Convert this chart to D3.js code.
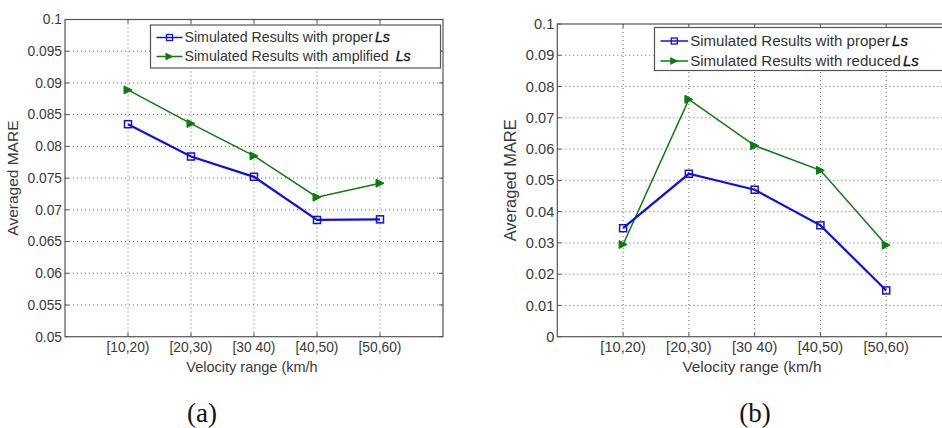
<!DOCTYPE html>
<html>
<head>
<meta charset="utf-8">
<script src="https://cdn.jsdelivr.net/npm/d3@7"></script>
<style>
  body { margin: 0; background: #fff; }
  svg { display: block; font-family: "Liberation Sans", Arial, sans-serif; }
  .tick-label { fill: #3a3a3a; }
  .axis-title { fill: #3a3a3a; }
  .legend-text { fill: #333; }
  .caption { font-family: "Liberation Serif", "Times New Roman", serif; font-size: 27px; fill: #111; }
</style>
</head>
<body>
<div id="chart"></div>
<script>
const categories = ['[10,20)', '[20,30)', '[30 40)', '[40,50)', '[50,60)'];

const properA = [0.0835, 0.0784, 0.0752, 0.0684, 0.0685];
const amplifiedA = [0.0889, 0.0836, 0.0785, 0.0720, 0.0742];
const yTicksA = [0.05, 0.055, 0.06, 0.065, 0.07, 0.075, 0.08, 0.085, 0.09, 0.095, 0.1];
const yTickLabelsA = ['0.05', '0.055', '0.06', '0.065', '0.07', '0.075', '0.08', '0.085', '0.09', '0.095', '0.1'];

const properB = [0.0347, 0.0521, 0.0470, 0.0356, 0.0148];
const reducedB = [0.0295, 0.0759, 0.0611, 0.0532, 0.0293];
const yTicksB = [0, 0.01, 0.02, 0.03, 0.04, 0.05, 0.06, 0.07, 0.08, 0.09, 0.1];
const yTickLabelsB = ['0', '0.01', '0.02', '0.03', '0.04', '0.05', '0.06', '0.07', '0.08', '0.09', '0.1'];

const colors = {
    blue: '#1010e0',
    green: '#0f7a0f',
    frame: '#555',
    grid: '#444'
};

const svg = d3.select('#chart')
    .append('svg')
    .attr('width', 942)
    .attr('height', 428);

function drawPanel(opts) {
    const g = svg.append('g');
    const k = opts.scale;
    const x = d3.scaleLinear().domain([0, 6]).range([opts.left, opts.right]);
    const y = d3.scaleLinear().domain([opts.yTicks[0], opts.yTicks[opts.yTicks.length - 1]])
        .range([opts.bottom, opts.top]);
    const xIdx = d3.range(1, categories.length + 1);

    // grid
    g.append('g').selectAll('line.hg')
        .data(opts.yTicks.slice(1, -1))
        .join('line')
        .attr('x1', opts.left).attr('x2', opts.right)
        .attr('y1', d => y(d)).attr('y2', d => y(d))
        .attr('stroke', colors.grid)
        .attr('stroke-width', 0.8)
        .attr('stroke-dasharray', '1,3');
    g.append('g').selectAll('line.vg')
        .data(xIdx)
        .join('line')
        .attr('x1', d => x(d)).attr('x2', d => x(d))
        .attr('y1', opts.top).attr('y2', opts.bottom)
        .attr('stroke', colors.grid)
        .attr('stroke-width', 0.8)
        .attr('stroke-dasharray', '1,3');

    // frame
    g.append('rect')
        .attr('x', opts.left).attr('y', opts.top)
        .attr('width', opts.right - opts.left)
        .attr('height', opts.bottom - opts.top)
        .attr('fill', 'none')
        .attr('stroke', colors.frame)
        .attr('stroke-width', 1.2);

    // inward ticks
    const tl = 4;
    xIdx.forEach(i => {
        g.append('line').attr('x1', x(i)).attr('x2', x(i))
            .attr('y1', opts.bottom).attr('y2', opts.bottom - tl)
            .attr('stroke', colors.frame);
        g.append('line').attr('x1', x(i)).attr('x2', x(i))
            .attr('y1', opts.top).attr('y2', opts.top + tl)
            .attr('stroke', colors.frame);
    });
    opts.yTicks.forEach(v => {
        g.append('line').attr('x1', opts.left).attr('x2', opts.left + tl)
            .attr('y1', y(v)).attr('y2', y(v))
            .attr('stroke', colors.frame);
        g.append('line').attr('x1', opts.right).attr('x2', opts.right - tl)
            .attr('y1', y(v)).attr('y2', y(v))
            .attr('stroke', colors.frame);
    });

    // tick labels
    g.append('g').selectAll('text')
        .data(opts.yTicks)
        .join('text')
        .attr('class', 'tick-label')
        .style('font-size', 13.8 * k + 'px')
        .attr('x', opts.left - 3)
        .attr('y', d => y(d))
        .attr('dy', '0.35em')
        .attr('text-anchor', 'end')
        .text((d, i) => opts.yTickLabels[i]);
    g.append('g').selectAll('text')
        .data(categories)
        .join('text')
        .attr('class', 'tick-label')
        .style('font-size', 13.8 * k + 'px')
        .attr('x', (d, i) => x(i + 1))
        .attr('y', opts.bottom + 15)
        .attr('text-anchor', 'middle')
        .text(d => d);

    // axis titles
    g.append('text')
        .attr('class', 'axis-title')
        .style('font-size', 14.5 * k + 'px')
        .attr('x', opts.xTitleX)
        .attr('y', opts.bottom + 35)
        .attr('text-anchor', 'middle')
        .text('Velocity range (km/h');
    g.append('text')
        .attr('class', 'axis-title')
        .style('font-size', 15.5 * k + 'px')
        .attr('transform', `translate(${opts.yTitleX}, ${(opts.top + opts.bottom) / 2}) rotate(-90)`)
        .attr('text-anchor', 'middle')
        .text('Averaged MARE');

    // series
    const line = d3.line()
        .x((d, i) => x(i + 1))
        .y(d => y(d));

    g.append('path')
        .datum(opts.second)
        .attr('d', line)
        .attr('fill', 'none')
        .attr('stroke', colors.green)
        .attr('stroke-width', 1.5);
    g.append('path')
        .datum(opts.proper)
        .attr('d', line)
        .attr('fill', 'none')
        .attr('stroke', colors.blue)
        .attr('stroke-width', 2.2);

    g.append('g').selectAll('path')
        .data(opts.second)
        .join('path')
        .attr('d', (d, i) => triangle(x(i + 1), y(d)))
        .attr('fill', colors.green)
        .attr('stroke', colors.green);
    g.append('g').selectAll('rect')
        .data(opts.proper)
        .join('rect')
        .attr('x', (d, i) => x(i + 1) - 3.5)
        .attr('y', d => y(d) - 3.5)
        .attr('width', 7).attr('height', 7)
        .attr('fill', 'none')
        .attr('stroke', colors.blue)
        .attr('stroke-width', 1.5);

    // legend
    const lg = g.append('g');
    lg.append('rect')
        .attr('x', opts.legend.x).attr('y', opts.legend.y)
        .attr('width', opts.legend.w).attr('height', opts.legend.h)
        .attr('fill', '#fff')
        .attr('stroke', colors.frame)
        .attr('stroke-width', 1.2);
    const lx = opts.legend.x + 6;
    const rows = [
        { color: colors.blue, label: 'Simulated Results with proper', marker: 'square' },
        { color: colors.green, label: opts.secondLabel, marker: 'triangle' }
    ];
    rows.forEach((r, i) => {
        const ry = opts.legend.y + opts.legend.row0 + i * opts.legend.step;
        lg.append('line')
            .attr('x1', lx).attr('x2', lx + 26 * k)
            .attr('y1', ry).attr('y2', ry)
            .attr('stroke', r.color)
            .attr('stroke-width', 1.5);
        if (r.marker === 'square') {
            lg.append('rect')
                .attr('x', lx + 13 * k - 3).attr('y', ry - 3)
                .attr('width', 6).attr('height', 6)
                .attr('fill', 'none')
                .attr('stroke', r.color)
                .attr('stroke-width', 1.3);
        } else {
            lg.append('path')
                .attr('d', triangle(lx + 13 * k, ry))
                .attr('fill', r.color);
        }
        const t = lg.append('text')
            .attr('class', 'legend-text')
            .style('font-size', 14.2 * k + 'px')
            .attr('x', lx + 28 * k)
            .attr('y', ry)
            .attr('dy', '0.35em');
        t.append('tspan').text(r.label);
        t.append('tspan')
            .attr('dx', opts.lsGap[i])
            .style('font-style', 'italic')
            .style('fill', '#111')
            .style('stroke', '#111')
            .style('stroke-width', 0.3)
            .text('Ls');
    });
}

function triangle(cx, cy) {
    const s = 4;
    return `M${cx - s},${cy - s}L${cx + s},${cy}L${cx - s},${cy + s}Z`;
}

drawPanel({
    left: 65, right: 443, top: 19.5, bottom: 336.7,
    scale: 1,
    yTicks: yTicksA, yTickLabels: yTickLabelsA,
    proper: properA, second: amplifiedA,
    secondLabel: 'Simulated Results with amplified',
    xTitleX: 252,
    yTitleX: 18,
    legend: { x: 150.5, y: 25, w: 290, h: 43, row0: 12.5, step: 19 },
    lsGap: [2, 7]
});

drawPanel({
    left: 557.3, right: 952, top: 24, bottom: 336.7,
    scale: 1.06,
    yTicks: yTicksB, yTickLabels: yTickLabelsB,
    proper: properB, second: reducedB,
    secondLabel: 'Simulated Results with reduced',
    xTitleX: 752,
    yTitleX: 516,
    legend: { x: 654.5, y: 27.5, w: 310, h: 43, row0: 13.5, step: 20 },
    lsGap: [2, 2]
});

svg.append('text').attr('class', 'caption')
    .attr('x', 202).attr('y', 422)
    .attr('text-anchor', 'middle')
    .text('(a)');
svg.append('text').attr('class', 'caption')
    .attr('x', 755).attr('y', 422)
    .attr('text-anchor', 'middle')
    .text('(b)');
</script>
</body>
</html>
